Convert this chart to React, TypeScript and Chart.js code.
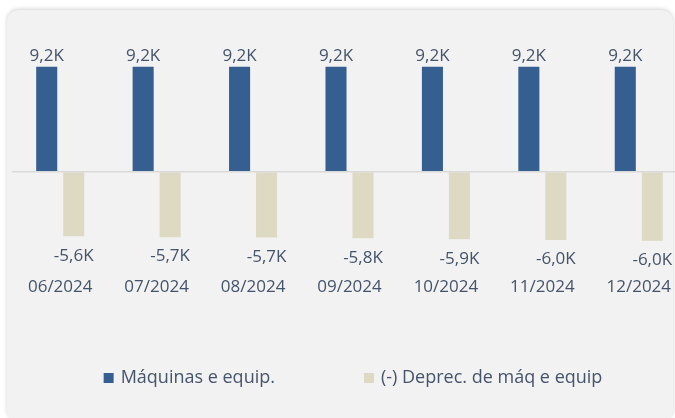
import React, { useEffect, useRef } from "react";
import { Chart, registerables } from "chart.js";

Chart.register(...registerables);

const categories = ["06/2024", "07/2024", "08/2024", "09/2024", "10/2024", "11/2024", "12/2024"];
const maquinas = [9200, 9200, 9200, 9200, 9200, 9200, 9200];
const deprec = [-5640, -5720, -5740, -5820, -5900, -5970, -6040];
const seriesNames = ["Máquinas e equip.", "(-) Deprec. de máq e equip"];
const seriesColors = ["#365f91", "#ddd9c3"];

const TEXT = "#44546a";
const FONT = "'Open Sans', 'Noto Sans', sans-serif";

const fmt = (v: number) => (v / 1000).toFixed(1).replace(".", ",") + "K";

const labelsPlugin = {
  id: "valueLabels",
  afterDatasetsDraw(chart: any) {
    const ctx = chart.ctx;
    ctx.save();
    ctx.fillStyle = TEXT;
    ctx.font = `17px ${FONT}`;
    ctx.textAlign = "center";
    chart.data.datasets.forEach((ds: any, di: number) => {
      const meta = chart.getDatasetMeta(di);
      meta.data.forEach((bar: any, i: number) => {
        const v = ds.data[i];
        if (v >= 0) {
          ctx.textBaseline = "bottom";
          ctx.fillText(fmt(v), bar.x, bar.y - 2);
        } else {
          ctx.textBaseline = "top";
          ctx.fillText(fmt(v), bar.x, bar.y + 11);
        }
      });
    });
    ctx.restore();
  },
};

const legendPlugin = {
  id: "customLegend",
  afterDraw(chart: any) {
    const ctx = chart.ctx;
    ctx.save();
    ctx.font = `18px ${FONT}`;
    const box = 10;
    const gap = 7;
    const itemGap = 89;
    const widths = seriesNames.map((n) => ctx.measureText(n).width);
    const total = widths.reduce((a, w) => a + box + gap + w, 0) + itemGap * (seriesNames.length - 1);
    let x = chart.width / 2 - total / 2;
    const y = 378;
    seriesNames.forEach((n, i) => {
      ctx.fillStyle = seriesColors[i];
      ctx.fillRect(x, y - box / 2, box, box);
      ctx.fillStyle = TEXT;
      ctx.textAlign = "left";
      ctx.textBaseline = "middle";
      ctx.fillText(n, x + box + gap, y);
      x += box + gap + widths[i] + itemGap;
    });
    ctx.restore();
  },
};

export default function App() {
  const ref = useRef<HTMLCanvasElement>(null);
  useEffect(() => {
    if (!ref.current) return;
    const chart = new Chart(ref.current, {
      type: "bar",
      data: {
        labels: categories,
        datasets: [
          {
            label: seriesNames[0],
            data: maquinas,
            backgroundColor: seriesColors[0],
            categoryPercentage: 0.56,
            barPercentage: 0.78,
          },
          {
            label: seriesNames[1],
            data: deprec,
            backgroundColor: seriesColors[1],
            categoryPercentage: 0.56,
            barPercentage: 0.78,
          },
        ],
      },
      options: {
        animation: false,
        responsive: false,
        layout: { padding: { left: 12, right: 19, top: 12, bottom: 119 } },
        plugins: { legend: { display: false }, tooltip: { enabled: false } },
        scales: {
          x: {
            grid: { display: false, drawTicks: false },
            border: { display: false },
            ticks: { color: TEXT, font: { family: FONT, size: 17 }, padding: 2 },
          },
          y: {
            min: -9000,
            max: 14000,
            ticks: { display: false },
            border: { display: false },
            grid: {
              drawTicks: false,
              lineWidth: 1.5,
              color: (c: any) => (c.tick && c.tick.value === 0 ? "#d9d9d9" : "transparent"),
            },
          },
        },
      },
      plugins: [labelsPlugin, legendPlugin],
    });
    return () => chart.destroy();
  }, []);
  return (
    <div
      style={{
        position: "fixed",
        left: 0,
        top: 0,
        width: 675,
        height: 418,
        overflow: "hidden",
        background: "#ffffff",
      }}
    >
      <div
        style={{
          position: "absolute",
          left: 7,
          top: 10,
          width: 666,
          height: 412,
          background: "#f2f2f2",
          borderRadius: 12,
          boxShadow: "0 -1px 4px rgba(0,0,0,0.18)",
        }}
      />
      <canvas
        ref={ref}
        width={706}
        height={418}
        style={{ position: "absolute", left: 0, top: 0, width: 706, height: 418 }}
      />
    </div>
  );
}
